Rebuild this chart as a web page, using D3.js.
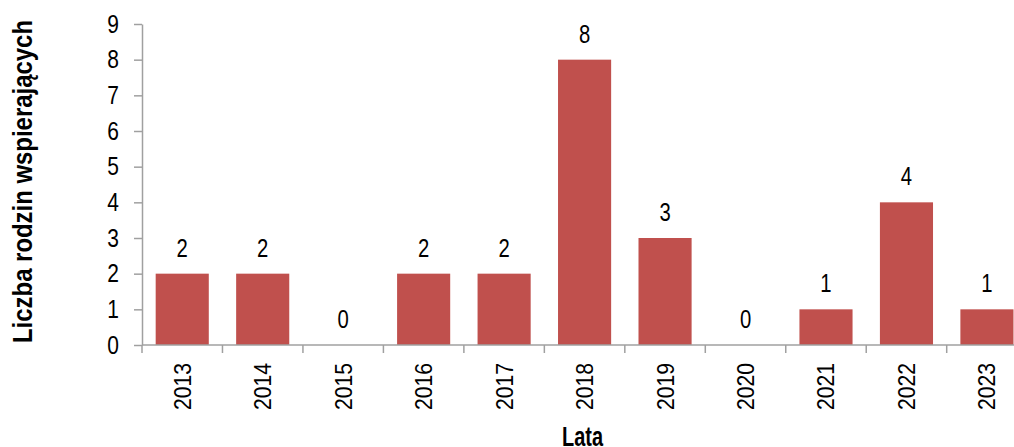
<!DOCTYPE html>
<html>
<head>
<meta charset="utf-8">
<script src="https://cdn.jsdelivr.net/npm/d3@7"></script>
<style>
  body { margin: 0; background: #fff; }
  svg { display: block; font-family: "Liberation Sans", Arial, sans-serif; }
</style>
</head>
<body>
<div id="chart"></div>
<script>
const years = ["2013", "2014", "2015", "2016", "2017", "2018", "2019", "2020", "2021", "2022", "2023"];
const counts = [2, 2, 0, 2, 2, 8, 3, 0, 1, 4, 1];
const yTicks = [0, 1, 2, 3, 4, 5, 6, 7, 8, 9];

const data = years.map((y, i) => ({year: y, value: counts[i]}));

const width = 1014, height = 447;
const plotLeft = 142, plotTop = 24, plotBottom = 345;
const step = 80.47;
const axisColor = "#a0a0a0";

const svg = d3.select("#chart").append("svg")
  .attr("width", width)
  .attr("height", height);

const x = d3.scaleBand()
  .domain(years)
  .range([plotLeft, plotLeft + step * years.length])
  .paddingInner(0.34)
  .paddingOuter(0.17);

const y = d3.scaleLinear()
  .domain([0, 9])
  .range([plotBottom, plotTop]);

const cx = d => x(d) + x.bandwidth() / 2;

// bars
svg.append("g").selectAll("rect")
  .data(data)
  .join("rect")
  .attr("x", d => x(d.year))
  .attr("y", d => y(d.value))
  .attr("width", x.bandwidth())
  .attr("height", d => y(0) - y(d.value))
  .attr("fill", "#c0504d");

// value labels (condensed look)
svg.append("g").selectAll("text")
  .data(data)
  .join("text")
  .attr("transform", d => `translate(${cx(d.year)},${y(d.value) - 17}) scale(0.78,1)`)
  .attr("text-anchor", "middle")
  .attr("font-size", 26)
  .attr("fill", "#000")
  .text(d => d.value);

// y axis
const yAxis = svg.append("g")
  .attr("transform", `translate(${plotLeft},0)`)
  .call(d3.axisLeft(y).tickValues(yTicks).tickSize(8).tickPadding(15).tickSizeOuter(0));
yAxis.attr("font-family", null).attr("font-size", null);
yAxis.select(".domain").attr("stroke", axisColor).attr("stroke-width", 1.5);
yAxis.selectAll(".tick line").attr("stroke", axisColor).attr("stroke-width", 1.5);
yAxis.selectAll(".tick text")
  .attr("x", null)
  .attr("transform", "translate(-23,0) scale(0.84,1)")
  .attr("font-size", 25)
  .attr("fill", "#000");

// x axis
const xAxisG = svg.append("g");
xAxisG.append("line")
  .attr("x1", plotLeft).attr("x2", width)
  .attr("y1", plotBottom).attr("y2", plotBottom)
  .attr("stroke", axisColor).attr("stroke-width", 1.5);
xAxisG.selectAll(".tk")
  .data(years)
  .join("line")
  .attr("class", "tk")
  .attr("x1", d => x(d) - (x.step() - x.bandwidth()) / 2)
  .attr("x2", d => x(d) - (x.step() - x.bandwidth()) / 2)
  .attr("y1", plotBottom)
  .attr("y2", plotBottom + 8)
  .attr("stroke", axisColor).attr("stroke-width", 1.5);
xAxisG.selectAll(".lbl")
  .data(years)
  .join("text")
  .attr("class", "lbl")
  .attr("transform", d => `translate(${cx(d) + 8.5},363) rotate(-90) scale(0.88,1)`)
  .attr("text-anchor", "end")
  .attr("font-size", 24)
  .text(d => d);

// axis titles
svg.append("text")
  .attr("transform", "translate(32,181.5) rotate(-90)")
  .attr("text-anchor", "middle")
  .attr("font-weight", "bold")
  .attr("font-size", 27)
  .attr("textLength", 323)
  .attr("lengthAdjust", "spacingAndGlyphs")
  .text("Liczba rodzin wspierających");

svg.append("text")
  .attr("x", 582.5)
  .attr("y", 446)
  .attr("text-anchor", "middle")
  .attr("font-weight", "bold")
  .attr("font-size", 27)
  .attr("textLength", 41)
  .attr("lengthAdjust", "spacingAndGlyphs")
  .text("Lata");
</script>
</body>
</html>
